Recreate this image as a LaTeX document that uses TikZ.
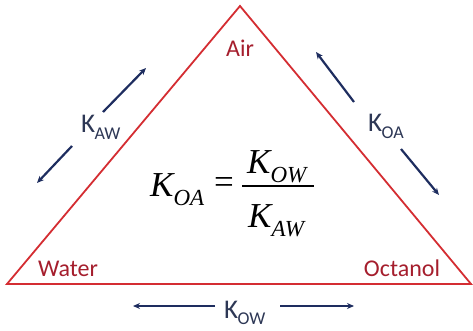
\documentclass[tikz,border=0pt]{standalone}
\usepackage{fontspec}
\setmainfont{Carlito}
\newfontfamily\timesfont{Liberation Serif}
\usetikzlibrary{arrows.meta}
\definecolor{trired}{RGB}{212,45,50}
\definecolor{labred}{RGB}{165,30,45}
\definecolor{navy}{RGB}{30,45,95}
\definecolor{kgray}{RGB}{45,55,85}
\tikzset{
  phase/.style={text=labred,font=\fontsize{24}{26}\selectfont,inner sep=0pt},
  klabel/.style={text=kgray,inner sep=0pt,anchor=base west},
  eqpart/.style={inner sep=0pt,anchor=base west,font=\timesfont},
  flux/.style={draw=navy,line width=2.2pt,-{Stealth[length=7pt,width=6pt]}},
}
\newcommand\Ksub[1]{{\fontsize{27}{29}\selectfont K\kern-0.5pt\raisebox{-6pt}{\fontsize{18}{20}\selectfont #1}}}
\newcommand\Keq[1]{{\fontsize{35}{37}\selectfont\itshape K\kern0pt\raisebox{-9pt}{\fontsize{23}{25}\selectfont\itshape #1}}}
\begin{document}
\begin{tikzpicture}[x=1pt,y=-1pt]
\useasboundingbox (0,0) rectangle (473,331);
\coordinate (top) at (240,6);
\coordinate (bl) at (7,284);
\coordinate (br) at (471,284);
\draw[trired,line width=1.8pt,line join=miter] (top) -- (br) -- (bl) -- cycle;
\node[phase] (air) at (240,48) {Air};
\node[phase] (water) at (68,269) {Water};
\node[phase] (octanol) at (402,268) {Octanol};
% labels
\node[klabel] (kaw) at (81,133) {\Ksub{AW}};
\node[klabel] (koa) at (368,132) {\Ksub{OA}};
\node[klabel] (kow) at (224,318) {\Ksub{OW}};
% arrows
\coordinate (a1s) at (103,112); \coordinate (a1e) at (146,68);
\coordinate (a2s) at (72,146);  \coordinate (a2e) at (37,183);
\coordinate (b1s) at (354,102); \coordinate (b1e) at (316,52);
\coordinate (b2s) at (401,149); \coordinate (b2e) at (439,195);
\coordinate (c1s) at (215,306); \coordinate (c1e) at (133,306);
\coordinate (c2s) at (280,306); \coordinate (c2e) at (354,306);
\draw[flux] (a1s) -- (a1e);
\draw[flux] (a2s) -- (a2e);
\draw[flux] (b1s) -- (b1e);
\draw[flux] (b2s) -- (b2e);
\draw[flux] (c1s) -- (c1e);
\draw[flux] (c2s) -- (c2e);
% equation
\node[eqpart] (lhs) at (150,196) {\Keq{OA}};
\node[inner sep=0pt,font=\timesfont\fontsize{35}{37}\selectfont] (eq) at (224,186) {=};
\node[eqpart] (num) at (247,173) {\Keq{OW}};
\node[eqpart] (den) at (248,227) {\Keq{AW}};
\coordinate (fl) at (242,186); \coordinate (fr) at (314,186);
\draw[line width=1.3pt] (fl) -- (fr);
\end{tikzpicture}
\end{document}
